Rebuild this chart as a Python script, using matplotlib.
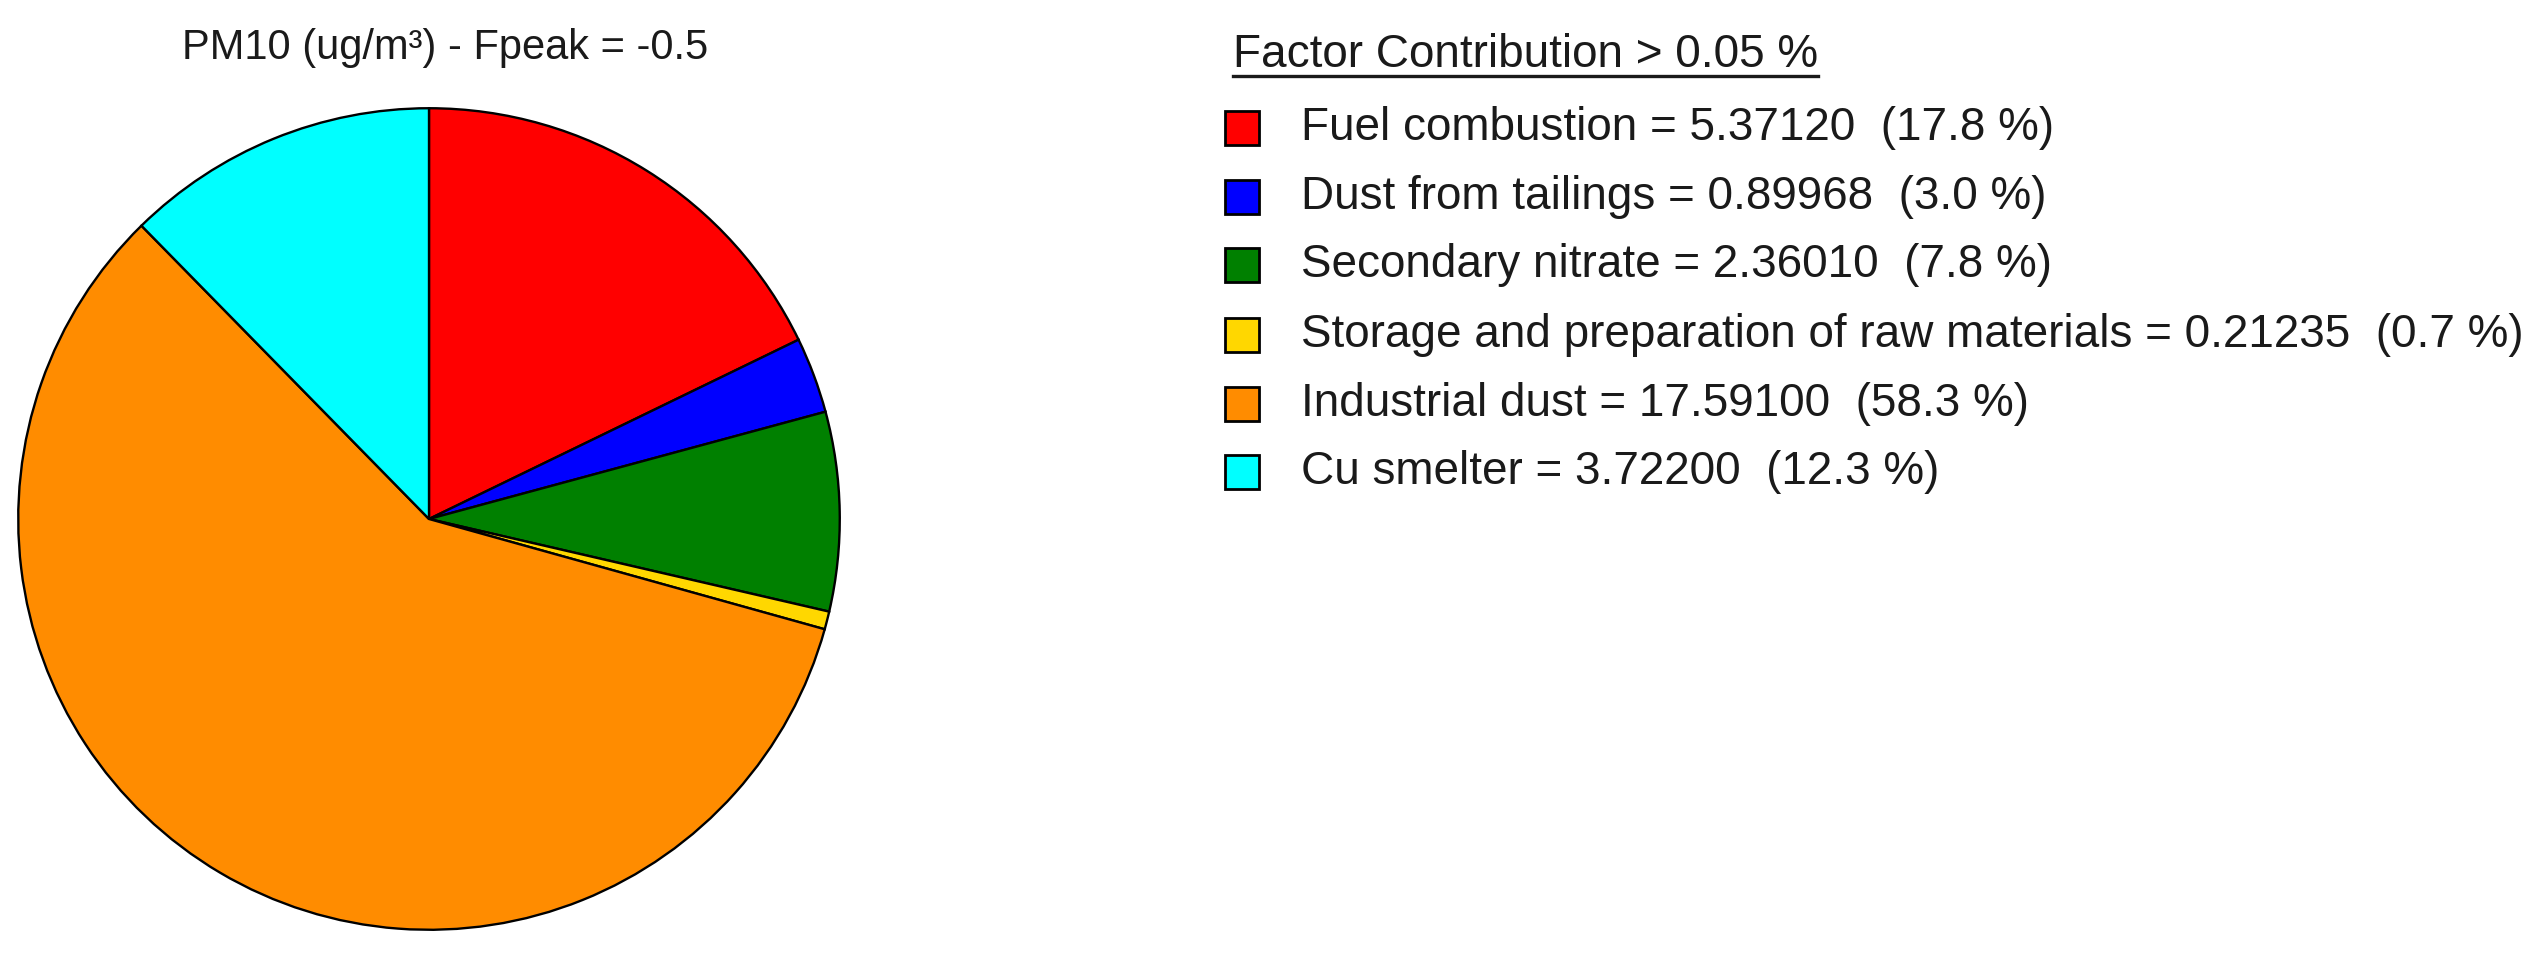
import matplotlib
matplotlib.use("Agg")
import matplotlib.pyplot as plt
from matplotlib.patches import Rectangle
from matplotlib.lines import Line2D

plt.rcParams['font.family'] = ['Liberation Sans', 'DejaVu Sans']

# ---- data ----
factors = ["Fuel combustion", "Dust from tailings", "Secondary nitrate",
           "Storage and preparation of raw materials", "Industrial dust", "Cu smelter"]
values = [5.37120, 0.89968, 2.36010, 0.21235, 17.59100, 3.72200]
percents = [17.8, 3.0, 7.8, 0.7, 58.3, 12.3]
colors = ["#FF0000", "#0000FF", "#008000", "#FFD700", "#FF8C00", "#00FFFF"]
title = "PM10 (ug/m³) - Fpeak = -0.5"
legend_title = "Factor Contribution > 0.05 %"

W, H = 2537, 957
fig = plt.figure(figsize=(W / 100, H / 100), dpi=100)
txt_color = '#1a1a1a'

# pie axes
cx, cy, r = 429, 519, 412
ax = fig.add_axes([(cx - r) / W, (H - cy - r) / H, 2 * r / W, 2 * r / H])
ax.pie(values, colors=colors, startangle=90, counterclock=False,
       wedgeprops=dict(edgecolor="black", linewidth=1.7), radius=1)
ax.set_xlim(-1.003, 1.003)
ax.set_ylim(-1.003, 1.003)
ax.set_aspect('equal')
ax.axis('off')

fig.text(445 / W, 1 - 48 / H, title, ha='center', va='center', fontsize=30, color=txt_color)

# legend
lx_title = 1233
t = fig.text(lx_title / W, 1 - 55 / H, legend_title, ha='left', va='center', fontsize=33, color=txt_color)
fig.canvas.draw()
bb = t.get_window_extent()
uy = 1 - 76 / H
fig.add_artist(Line2D([bb.x0 / W, bb.x1 / W], [uy, uy], color=txt_color, linewidth=2.4,
                      transform=fig.transFigure))

row_y = [128, 197, 265, 335, 404, 472]
sq = 34
for name, v, p, c, y in zip(factors, values, percents, colors, row_y):
    fig.add_artist(Rectangle(((1225) / W, 1 - (y + sq / 2) / H), sq / W, sq / H,
                             facecolor=c, edgecolor='black', linewidth=2,
                             transform=fig.transFigure))
    fig.text(1301 / W, 1 - y / H, f"{name} = {v:.5f}  ({p:.1f} %)", ha='left', va='center',
             fontsize=33, color=txt_color)

fig.savefig("out.png", dpi=100, facecolor='white')
